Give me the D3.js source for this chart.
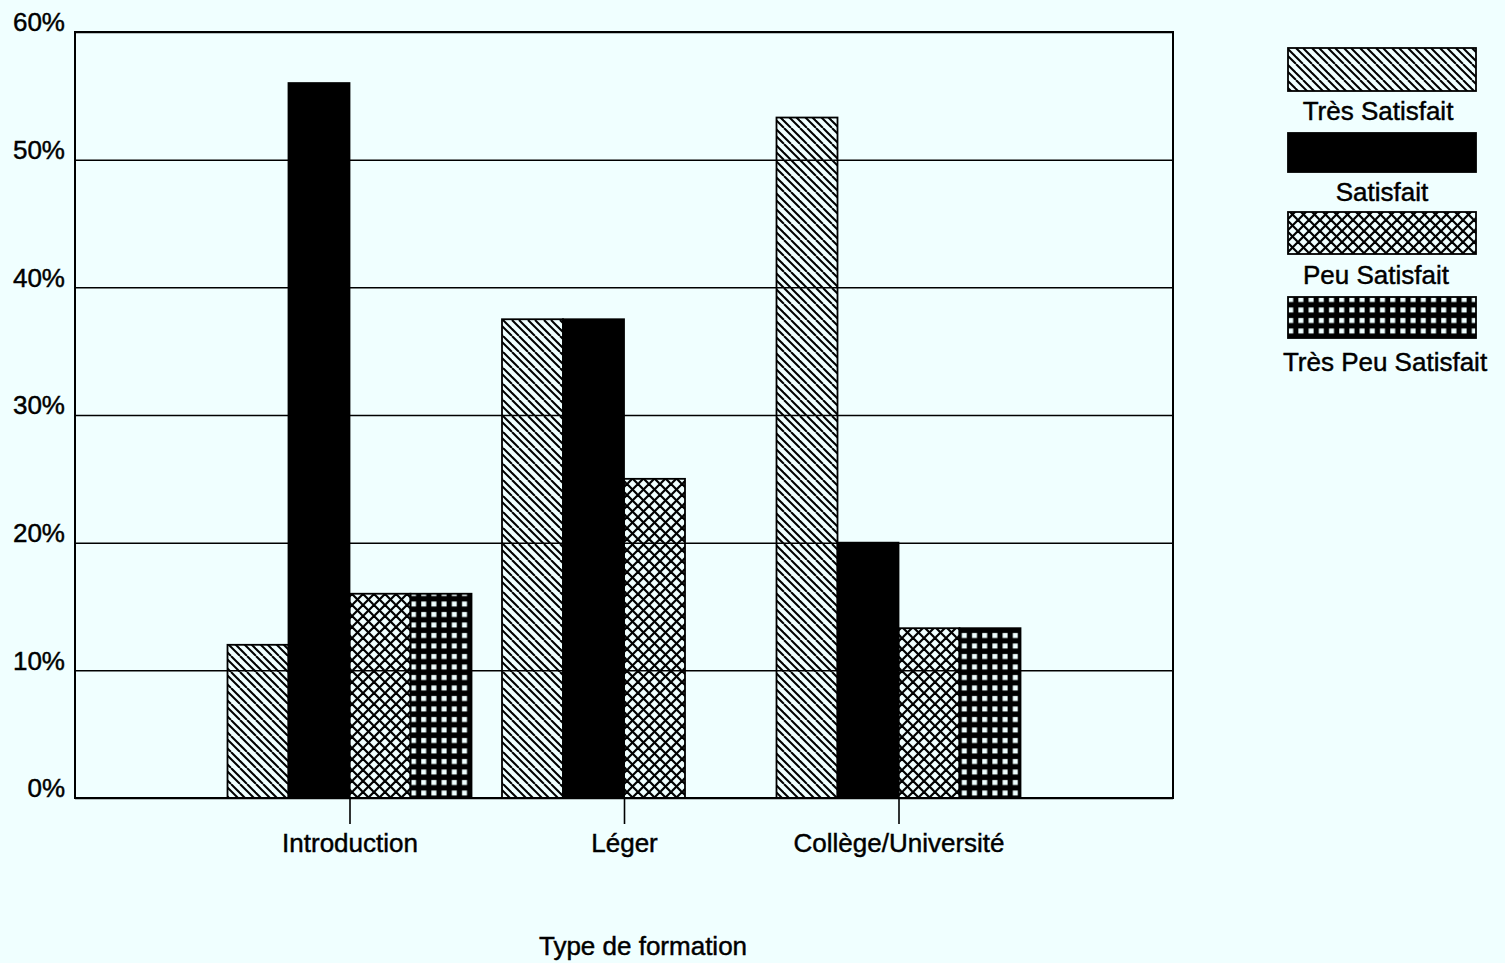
<!DOCTYPE html>
<html><head><meta charset="utf-8">
<script src="https://cdn.jsdelivr.net/npm/d3@7"></script>
<style>
html,body{margin:0;padding:0;background:#f0ffff;}
svg{display:block;font-family:"Liberation Sans",Arial,sans-serif;}
text{stroke:#000;stroke-width:0.45px;}
</style></head>
<body>
<script>
const categories = ["Introduction", "Léger", "Collège/Université"];
const seriesNames = ["Très Satisfait", "Satisfait", "Peu Satisfait", "Très Peu Satisfait"];
const tresSatisfait = [12, 37.5, 53.3];
const satisfait = [56, 37.5, 20];
const peuSatisfait = [16, 25, 13.3];
const tresPeuSatisfait = [16, 0, 13.3];
const yTicks = [0, 10, 20, 30, 40, 50, 60];
const xTitle = "Type de formation";

(function () {
const W = 1505, H = 963;
const mLeft = 75, mRight = 1173, mTop = 32, mBottom = 798;

const svg = d3.select("body").append("svg").attr("width", W).attr("height", H);
svg.append("rect").attr("width", W).attr("height", H).attr("fill", "#f0ffff");

// patterns
const defs = svg.append("defs");
const p1 = defs.append("pattern").attr("id", "pDiag").attr("patternUnits", "userSpaceOnUse")
  .attr("width", 16).attr("height", 16);
[0, 7].forEach(o => {
  [-16, 0, 16].forEach(s => {
    p1.append("line").attr("x1", o + s).attr("y1", 0).attr("x2", o + s + 16).attr("y2", 16)
      .attr("stroke", "#000").attr("stroke-width", 2);
  });
});
const p2 = defs.append("pattern").attr("id", "pCross").attr("patternUnits", "userSpaceOnUse")
  .attr("width", 11).attr("height", 11);
[-11, 0, 11].forEach(s => {
  p2.append("line").attr("x1", s).attr("y1", 0).attr("x2", s + 11).attr("y2", 11)
    .attr("stroke", "#000").attr("stroke-width", 2.2);
  p2.append("line").attr("x1", s + 11).attr("y1", 0).attr("x2", s).attr("y2", 11)
    .attr("stroke", "#000").attr("stroke-width", 2.2);
});
const p3 = defs.append("pattern").attr("id", "pDots").attr("patternUnits", "userSpaceOnUse")
  .attr("width", 10.2).attr("height", 10.5);
p3.append("rect").attr("width", 10.2).attr("height", 10.5).attr("fill", "#000");
p3.append("rect").attr("x", 3).attr("y", 3).attr("width", 5).attr("height", 5).attr("fill", "#f0ffff");

const fills = ["url(#pDiag)", "#000", "url(#pCross)", "url(#pDots)"];
const seriesValues = [tresSatisfait, satisfait, peuSatisfait, tresPeuSatisfait];

const x = d3.scalePoint().domain(categories).range([mLeft, mRight]).padding(1);
const y = d3.scaleLinear().domain([0, 60]).range([mBottom, mTop]);
const xInner = d3.scaleBand().domain(seriesNames).range([-122, 122]).padding(0);

// grid + y axis
const yAxis = d3.axisLeft(y).tickValues(yTicks).tickFormat(d => d + "%").tickSize(-(mRight - mLeft)).tickPadding(10);
const gy = svg.append("g").attr("transform", `translate(${mLeft},0)`).call(yAxis);
gy.select(".domain").remove();
gy.selectAll(".tick line").attr("stroke", "#000").attr("stroke-width", 1.5);
gy.selectAll(".tick text").attr("font-size", 26).attr("fill", "#000")
  .attr("font-family", "Liberation Sans, Arial, sans-serif").attr("dy", "-0.05em").attr("x", -10);

// bars
const data = [];
categories.forEach((c, i) => seriesNames.forEach((s, j) => data.push({ c, s, j, v: seriesValues[j][i] })));
svg.append("g").selectAll("rect").data(data.filter(d => d.v > 0)).join("rect")
  .attr("x", d => x(d.c) + xInner(d.s))
  .attr("width", xInner.bandwidth())
  .attr("y", d => y(d.v))
  .attr("height", d => y(0) - y(d.v))
  .attr("fill", d => fills[d.j])
  .attr("stroke", "#000").attr("stroke-width", 1.8);

// plot frame
svg.append("rect").attr("x", mLeft).attr("y", mTop).attr("width", mRight - mLeft).attr("height", mBottom - mTop)
  .attr("fill", "none").attr("stroke", "#000").attr("stroke-width", 2);

// x axis
const xAxis = d3.axisBottom(x).tickSize(26).tickPadding(10);
const gx = svg.append("g").attr("transform", `translate(0,${mBottom})`).call(xAxis);
gx.select(".domain").remove();
gx.selectAll(".tick line").attr("stroke", "#000").attr("stroke-width", 1.6);
gx.selectAll(".tick text").attr("font-size", 26).attr("fill", "#000")
  .attr("font-family", "Liberation Sans, Arial, sans-serif");

svg.append("text").attr("x", 643).attr("y", 955).attr("text-anchor", "middle")
  .attr("font-size", 26).text(xTitle);

// legend
const legBoxes = [[48, 91], [133, 172], [212, 254], [297, 338]];
const legText = [120, 201, 284, 371];
const legCx = [1378, 1382, 1376, 1385];
seriesNames.forEach((s, j) => {
  svg.append("rect").attr("x", 1288).attr("y", legBoxes[j][0]).attr("width", 188)
    .attr("height", legBoxes[j][1] - legBoxes[j][0]).attr("fill", fills[j])
    .attr("stroke", "#000").attr("stroke-width", 1.8);
  svg.append("text").attr("x", legCx[j]).attr("y", legText[j]).attr("text-anchor", "middle")
    .attr("font-size", 26).text(s);
});
})();
</script>
</body></html>
